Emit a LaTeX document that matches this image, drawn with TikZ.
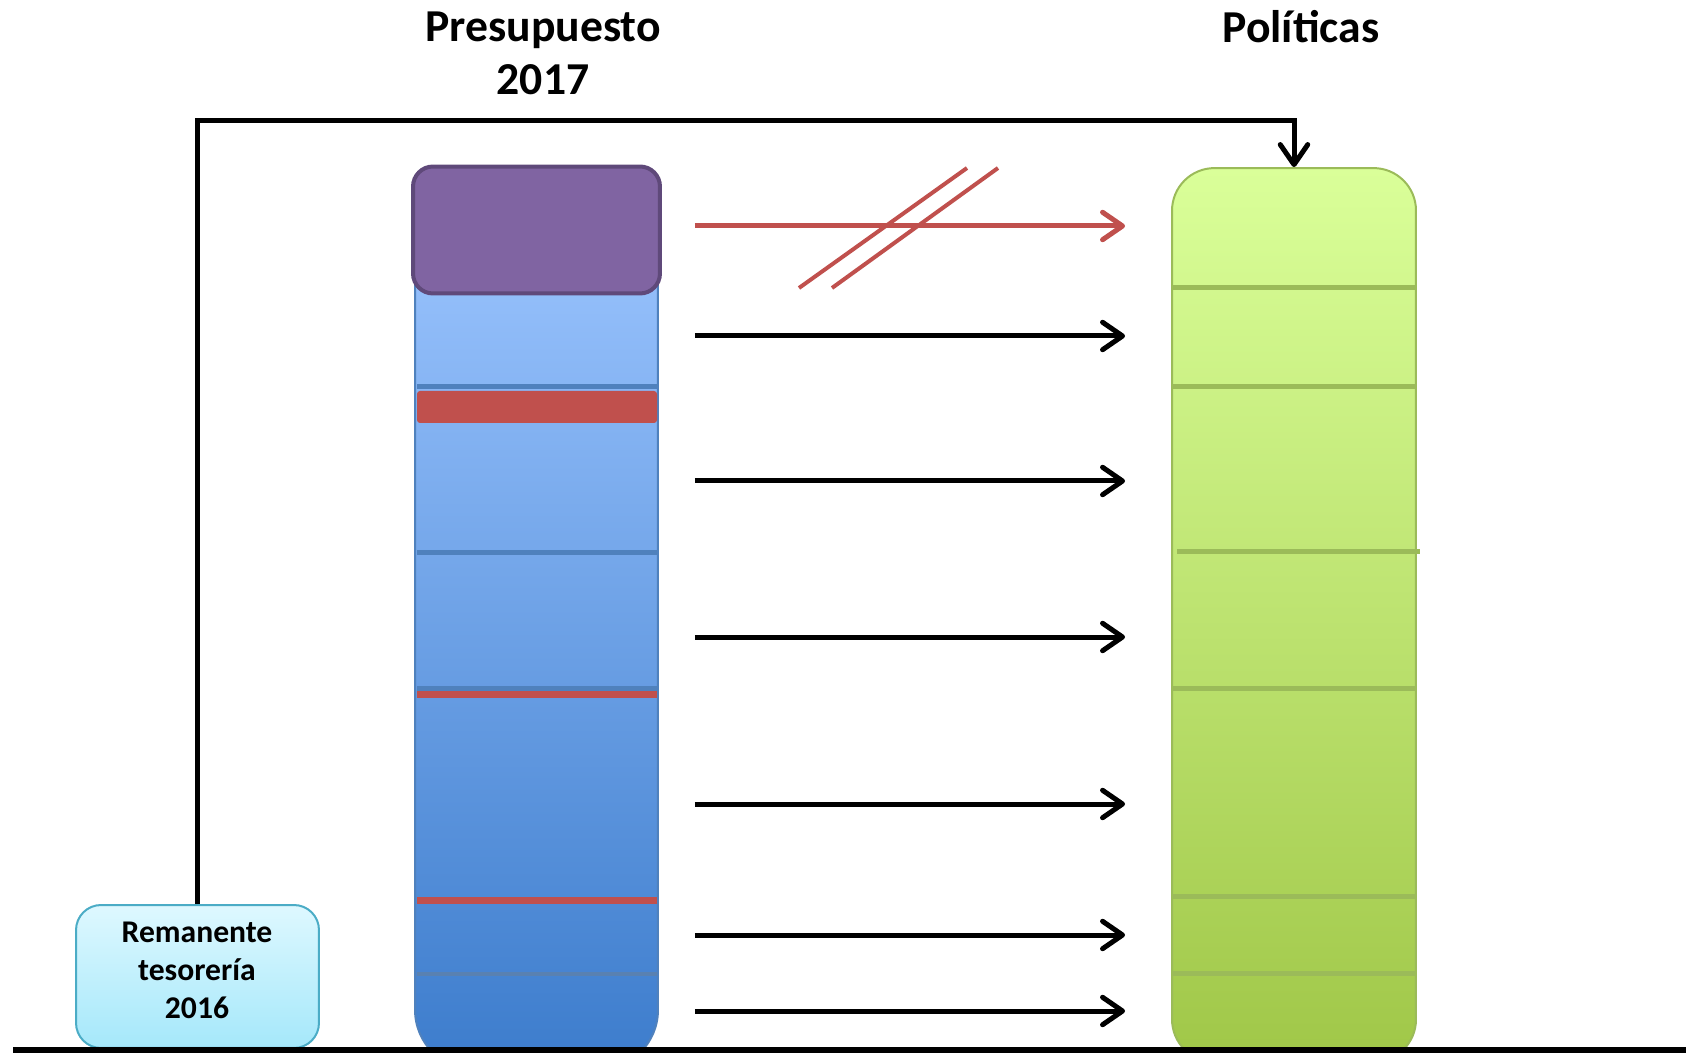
\documentclass[tikz,border=0pt]{standalone}
\usepackage{fontspec}
\setmainfont{Carlito}
\usetikzlibrary{arrows.meta, positioning}
\definecolor{budgettop}{RGB}{156, 197, 255}
\definecolor{budgetbot}{RGB}{60, 124, 204}
\definecolor{budgetline}{RGB}{79, 129, 189}
\definecolor{cutred}{RGB}{192, 80, 77}
\definecolor{fixedpurple}{RGB}{128, 100, 162}
\definecolor{fixedborder}{RGB}{95, 73, 122}
\definecolor{policytop}{RGB}{218, 255, 153}
\definecolor{policybot}{RGB}{160, 199, 72}
\definecolor{policyline}{RGB}{155, 187, 89}
\definecolor{remtop}{RGB}{222, 248, 255}
\definecolor{rembot}{RGB}{165, 232, 250}
\definecolor{remborder}{RGB}{75, 172, 198}

\begin{document}
\begin{tikzpicture}[
    x=0.02cm, y=-0.02cm,
    title/.style={font=\fontsize{26}{30.6}\selectfont\bfseries, align=center, anchor=base, inner sep=0pt},
    column/.style={rectangle, minimum width=4.86cm, line width=0.04cm},
    budgetcol/.style={column, draw=budgetline, top color=budgettop, bottom color=budgetbot, rounded corners=1.2cm, minimum height=17.4cm},
    policycol/.style={column, draw=policyline, top color=policytop, bottom color=policybot, rounded corners=0.85cm, minimum width=4.88cm, minimum height=17.88cm},
    fixedbox/.style={rectangle, draw=fixedborder, fill=fixedpurple, rounded corners=0.4cm, line width=0.08cm, minimum width=4.94cm, minimum height=2.54cm},
    remanente/.style={rectangle, draw=remborder, top color=remtop, bottom color=rembot, rounded corners=0.5cm, line width=0.04cm, minimum width=4.86cm, minimum height=2.86cm},
    remlabel/.style={font=\fontsize{18}{21.5}\selectfont\bfseries, align=center, anchor=base, inner sep=0pt},
    budgetdiv/.style={draw=budgetline, line width=0.1cm},
    policydiv/.style={draw=policyline, line width=0.1cm},
    cutbar/.style={draw=cutred, line width=0.14cm},
    arrow/.style={-{Straight Barb[length=4mm, width=5.5mm, round]}, line width=0.1cm},
]
\useasboundingbox (0,0) rectangle (1686,1053);
\clip (0,0) rectangle (1686,1053);

% Titles
\node[title] (budgettitle) at (543, 95) {Presupuesto\\2017};
\node[title] (policytitle) at (1301, 43) {Políticas};

% Budget column
\node[budgetcol] (budget) at (536.5, 635) {};
\foreach \y in {387, 553, 688}
    \draw[budgetdiv] (417, \y) -- (657, \y);
\draw[draw=budgetline!80!gray, line width=0.08cm] (417, 974) -- (657, 974);
\fill[cutred, rounded corners=0.06cm] (417, 391) rectangle (657, 423);
\draw[cutbar] (417, 694.5) -- (657, 694.5);
\draw[cutbar] (417, 900.5) -- (657, 900.5);
\node[fixedbox] (fixed) at (536.5, 230) {};

% Policies column
\node[policycol] (policies) at (1294, 615) {};
\foreach \y in {288, 387, 688, 896, 973}
    \draw[policydiv] (1173, \y) -- (1415, \y);
\draw[policydiv] (1177, 552) -- (1420, 552);

% Remanente
\node[remanente] (rem) at (197.5, 976.5) {};
\node[remlabel] (remtext) at (197, 1018) {Remanente\\tesorería\\2016};

% Arrows between columns
\draw[arrow, cutred, shorten <=0.72cm, shorten >=0.92cm] (budget.east |- 0,226) -- (policies.west |- 0,226);
\foreach \y in {336, 481, 637, 804, 935, 1011}
    \draw[arrow, shorten <=0.72cm, shorten >=0.92cm] (budget.east |- 0,\y) -- (policies.west |- 0,\y);

% Cut marks
\draw[cutred, line width=0.08cm] (799, 288) -- (967, 168);
\draw[cutred, line width=0.08cm] (832, 288) -- (998, 168);

% Remanente to policies
\coordinate (toprail) at (0, 121);
\draw[arrow] (rem.north) -- (rem.north |- toprail) -| (policies.north);

% Ground line
\draw[line width=0.12cm] (13, 1050) -- (1686, 1050);

\end{tikzpicture}
\end{document}
